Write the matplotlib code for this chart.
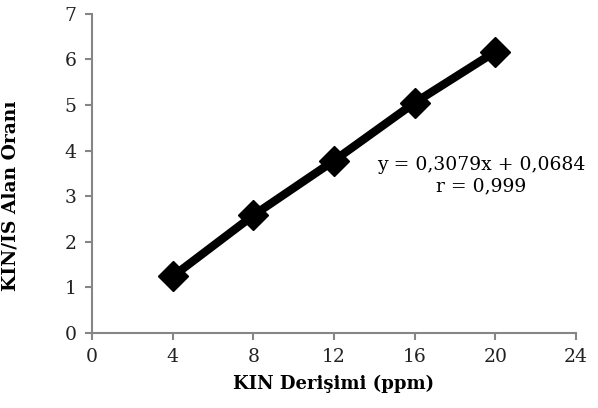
import matplotlib.pyplot as plt

# veri
konsantrasyon = [4, 8, 12, 16, 20]
alan_orani = [1.24, 2.58, 3.78, 5.05, 6.17]
x_ticks = [0, 4, 8, 12, 16, 20, 24]
y_ticks = [0, 1, 2, 3, 4, 5, 6, 7]

plt.rcParams['font.family'] = ['DejaVu Serif']

fig = plt.figure(figsize=(5.98, 4.08), dpi=100)
ax = fig.add_axes([0.154, 0.184, 0.809, 0.782])

ax.plot(konsantrasyon, alan_orani, color='black', linewidth=6,
        marker='D', markersize=15, markerfacecolor='black', markeredgecolor='black')

ax.set_xlim(0, 24)
ax.set_ylim(0, 7)
ax.set_xticks(x_ticks)
ax.set_yticks(y_ticks)

for s in ['top', 'right']:
    ax.spines[s].set_visible(False)
for s in ['left', 'bottom']:
    ax.spines[s].set_color('#868686')
    ax.spines[s].set_linewidth(1.5)
ax.tick_params(direction='out', length=5, width=1.5, color='#868686',
               labelsize=13.5, labelcolor='#222222', pad=6)

ax.set_xlabel('KIN Derişimi (ppm)', fontsize=13, fontweight='bold', labelpad=6)
ax.set_ylabel('KIN/IS Alan Oranı', fontsize=13.5, fontweight='bold')
ax.yaxis.set_label_coords(-0.15, 0.43)

ax.text(19.3, 3.68, 'y = 0,3079x + 0,0684', ha='center', va='center', fontsize=13.5)
ax.text(19.3, 3.22, 'r = 0,999', ha='center', va='center', fontsize=13.5)

fig.savefig('out.png', dpi=100)
